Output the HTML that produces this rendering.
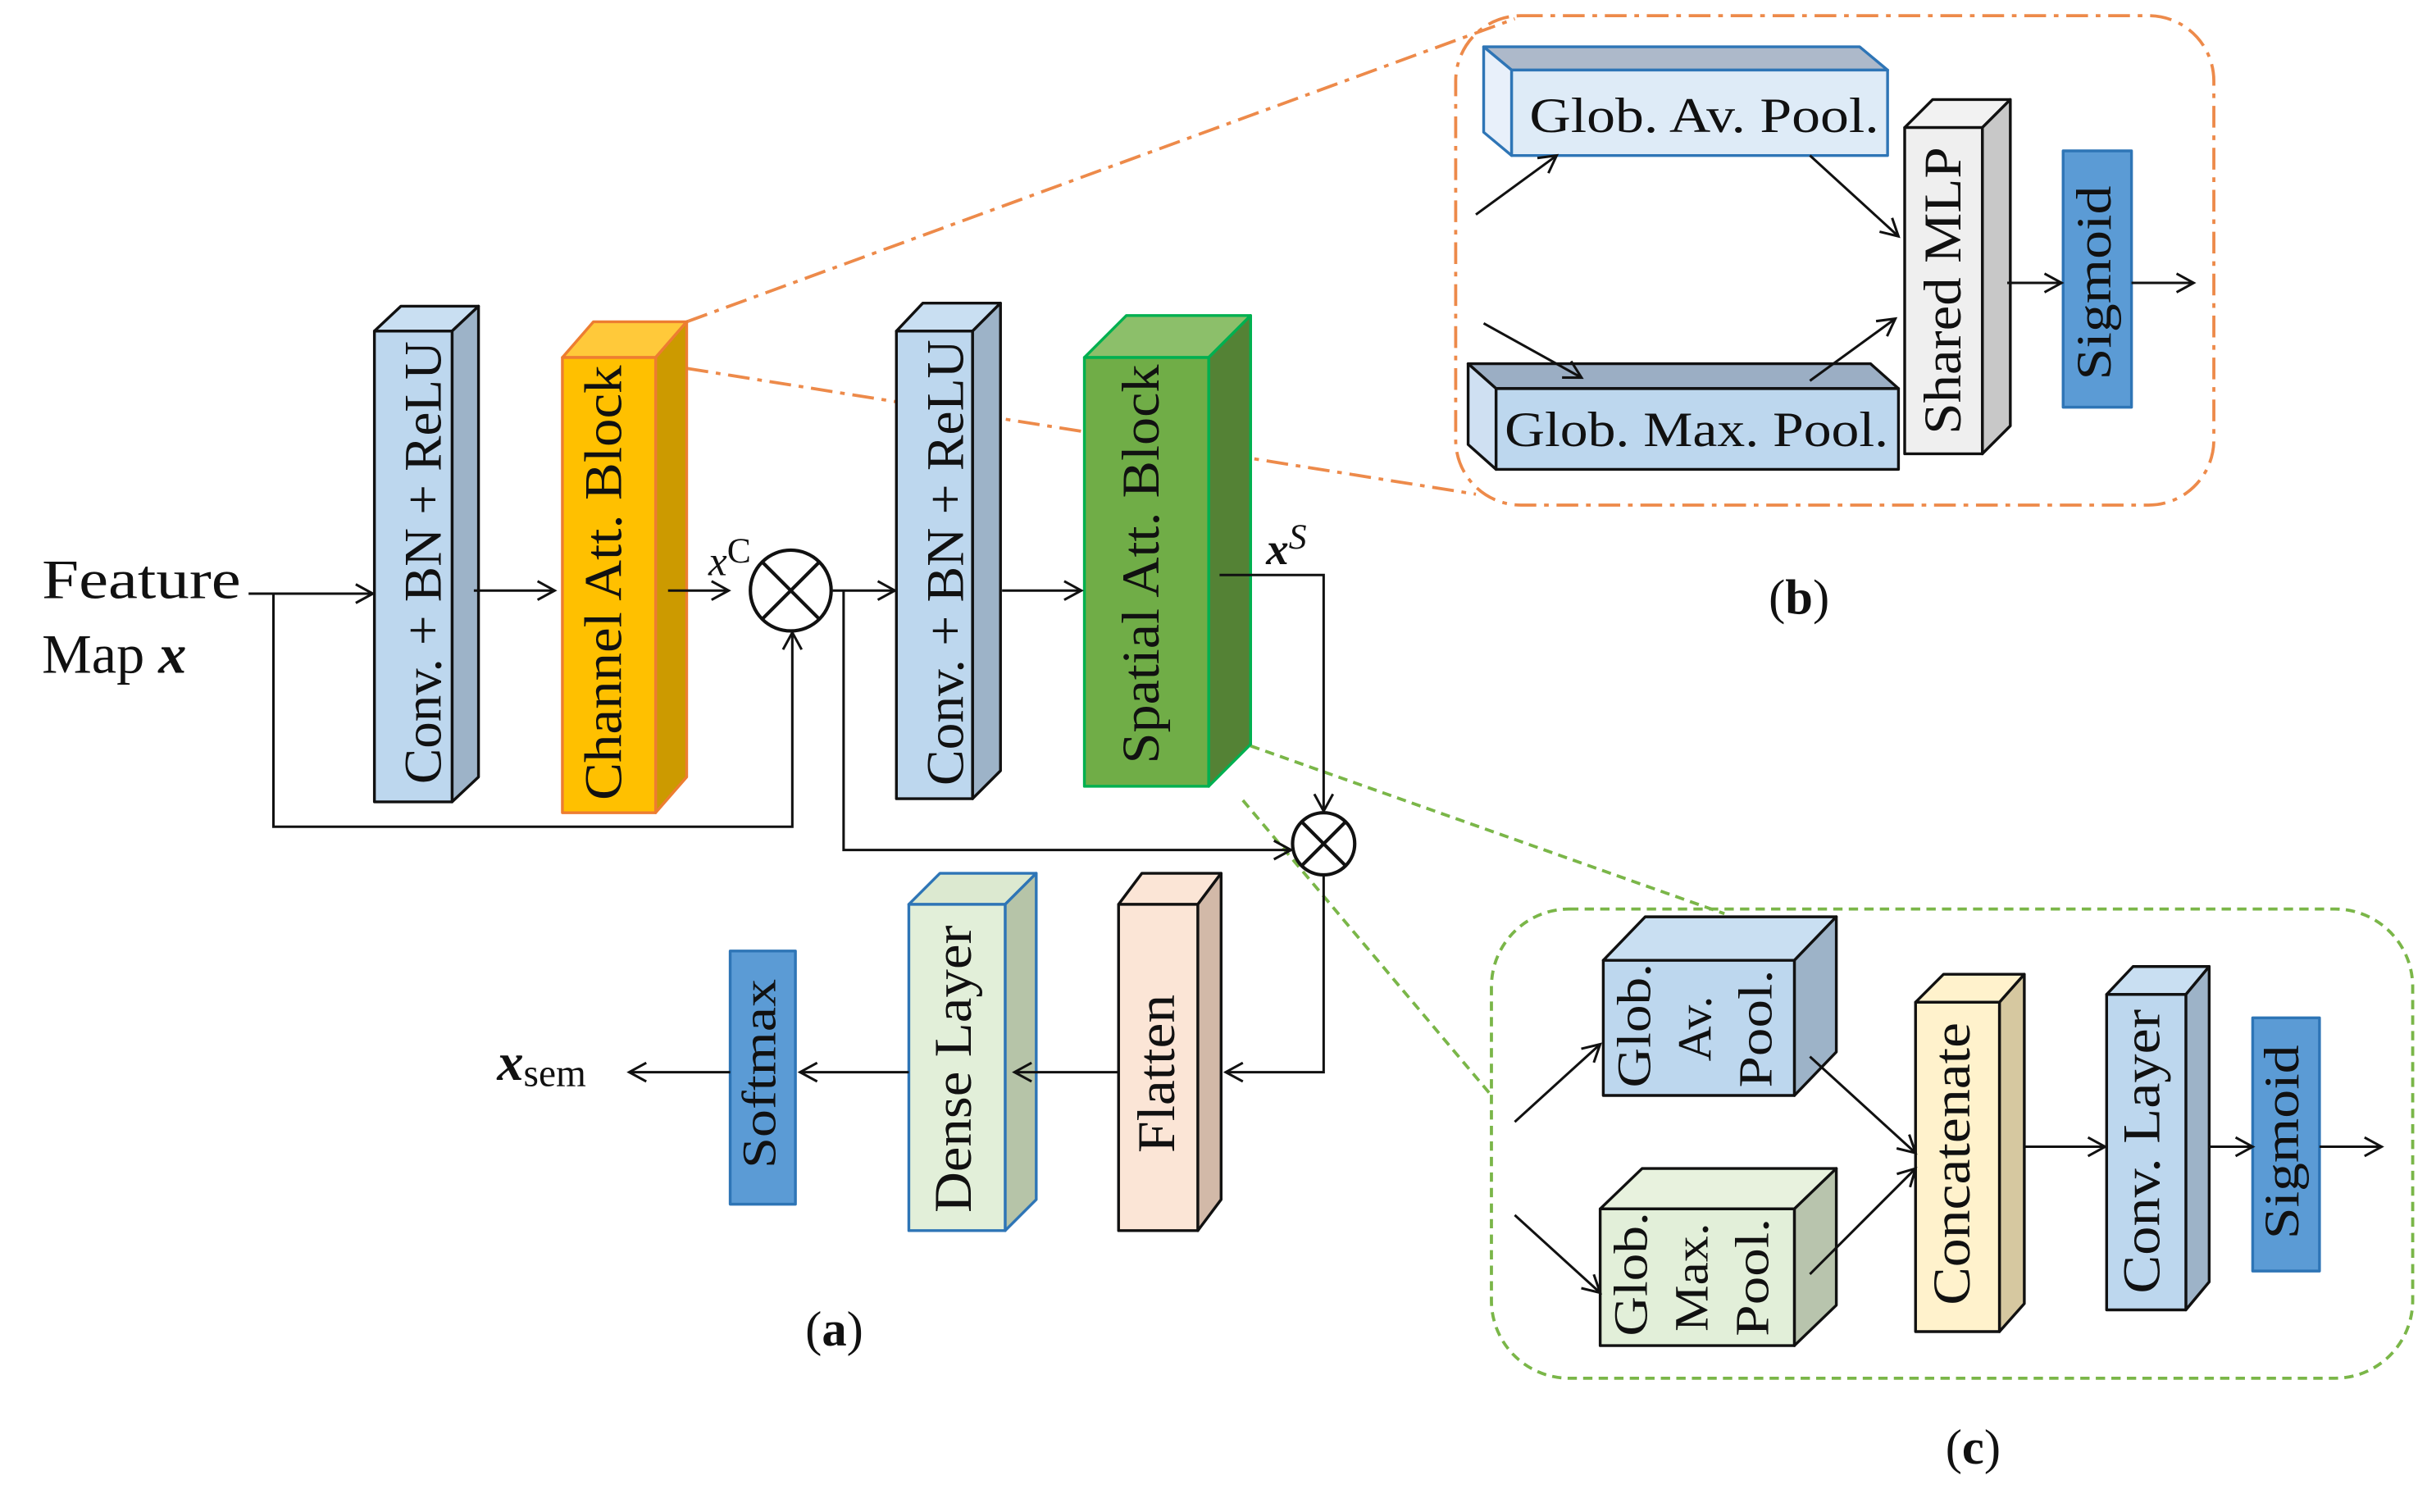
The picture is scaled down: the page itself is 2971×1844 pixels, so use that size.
<!DOCTYPE html>
<html><head><meta charset="utf-8"><style>html,body{margin:0;padding:0;background:#fff}svg{display:block}text{font-family:"Liberation Serif",serif;fill:#111}</style></head>
<body>
<svg width="2971" height="1844" viewBox="0 0 1568 973" xmlns="http://www.w3.org/2000/svg">
<defs>
<marker id="a" markerWidth="14" markerHeight="14" refX="12" refY="7" orient="auto" markerUnits="userSpaceOnUse">
<path d="M1,1 L12,7 L1,13" fill="none" stroke="#111" stroke-width="1.6"/></marker>
</defs>
<rect width="1568" height="973" fill="#fff"/>
<g fill="none" stroke="#ed8a4a" stroke-width="2" stroke-dasharray="14,5,3,5">
<line x1="442" y1="207" x2="975" y2="12"/>
<line x1="442" y1="237" x2="950" y2="318"/>
<rect x="937" y="10" width="488" height="315" rx="42"/>
</g>
<g fill="none" stroke="#7ab648" stroke-width="2" stroke-dasharray="6,4">
<line x1="805" y1="480" x2="1110" y2="588"/>
<line x1="800" y1="515" x2="960" y2="705"/>
<rect x="960" y="585" width="593" height="302" rx="50"/>
</g>
<g stroke="#111" stroke-width="1.8" stroke-linejoin="round">
<path d="M241,213 L258,197 L308,197 L291,213Z" fill="#c9dff2"/>
<path d="M291,213 L308,197 L308,500 L291,516Z" fill="#9db3c8"/>
<rect x="241" y="213" width="50" height="303" fill="#bdd7ee"/>
<g stroke="#ed7d31">
<path d="M362,230 L382,207 L442,207 L422,230Z" fill="#ffc93a"/>
<path d="M422,230 L442,207 L442,500 L422,523Z" fill="#cc9a00"/>
<rect x="362" y="230" width="60" height="293" fill="#ffc000"/>
</g>
<path d="M577,213 L594,195 L644,195 L626,213Z" fill="#c9dff2"/>
<path d="M626,213 L644,195 L644,496 L626,514Z" fill="#9db3c8"/>
<rect x="577" y="213" width="49" height="301" fill="#bdd7ee"/>
<g stroke="#00b050">
<path d="M698,230 L725,203 L805,203 L778,230Z" fill="#8cbf6a"/>
<path d="M778,230 L805,203 L805,479 L778,506Z" fill="#548235"/>
<rect x="698" y="230" width="80" height="276" fill="#70ad47"/>
</g>
<g stroke="#2e75b6">
<path d="M585,582 L605,562 L667,562 L647,582Z" fill="#dce9d0"/>
<path d="M647,582 L667,562 L667,772 L647,792Z" fill="#b6c4a8"/>
<rect x="585" y="582" width="62" height="210" fill="#e2efd9"/>
</g>
<path d="M720,582 L735,562 L786,562 L771,582Z" fill="#fbe5d6"/>
<path d="M771,582 L786,562 L786,772 L771,792Z" fill="#d2b9a8"/>
<rect x="720" y="582" width="51" height="210" fill="#fbe5d6"/>
<rect x="470" y="612" width="42" height="163" fill="#5b9bd5" stroke="#2e75b6"/>
<g stroke="#2e75b6">
<path d="M955,30 L1197,30 L1215,45 L973,45Z" fill="#adb9ca"/>
<path d="M955,30 L973,45 L973,100 L955,85Z" fill="#e8f0fa"/>
<rect x="973" y="45" width="242" height="55" fill="#deebf7"/>
</g>
<path d="M945,234 L1204,234 L1222,250 L963,250Z" fill="#9baec4"/>
<path d="M945,234 L963,250 L963,302 L945,286Z" fill="#cfe0f2"/>
<rect x="963" y="250" width="259" height="52" fill="#bdd7ee"/>
<path d="M1226,82 L1244,64 L1294,64 L1276,82Z" fill="#f2f2f2"/>
<path d="M1276,82 L1294,64 L1294,274 L1276,292Z" fill="#c8c8c8"/>
<rect x="1226" y="82" width="50" height="210" fill="#efefef"/>
<rect x="1328" y="97" width="44" height="165" fill="#5b9bd5" stroke="#2e75b6"/>
<path d="M1032,618 L1059,590 L1182,590 L1155,618Z" fill="#c9dff2"/>
<path d="M1155,618 L1182,590 L1182,677 L1155,705Z" fill="#9db3c8"/>
<rect x="1032" y="618" width="123" height="87" fill="#bdd7ee"/>
<path d="M1030,778 L1057,752 L1182,752 L1155,778Z" fill="#e8f2de"/>
<path d="M1155,778 L1182,752 L1182,840 L1155,866Z" fill="#b8c4ad"/>
<rect x="1030" y="778" width="125" height="88" fill="#e2efd9"/>
<path d="M1233,645 L1251,627 L1303,627 L1287,645Z" fill="#fff2cc"/>
<path d="M1287,645 L1303,627 L1303,839 L1287,857Z" fill="#d6c8a0"/>
<rect x="1233" y="645" width="54" height="212" fill="#fff2cc"/>
<path d="M1356,640 L1373,622 L1422,622 L1407,640Z" fill="#c9dff2"/>
<path d="M1407,640 L1422,622 L1422,825 L1407,843Z" fill="#9db3c8"/>
<rect x="1356" y="640" width="51" height="203" fill="#bdd7ee"/>
<rect x="1450" y="655" width="43" height="163" fill="#5b9bd5" stroke="#2e75b6"/>
</g>
<g stroke="#111" stroke-width="2.2" fill="#fff">
<circle cx="509" cy="380" r="26"/>
<path d="M491,362 L527,398 M527,362 L491,398"/>
<circle cx="852" cy="543" r="20"/>
<path d="M838,529 L866,557 M866,529 L838,557"/>
</g>
<g stroke="#111" stroke-width="1.6" fill="none">
<line x1="160" y1="382" x2="240" y2="382" marker-end="url(#a)"/>
<polyline points="176,382 176,532 510,532 510,407" marker-end="url(#a)"/>
<line x1="305" y1="380" x2="357" y2="380" marker-end="url(#a)"/>
<line x1="430" y1="380" x2="469" y2="380" marker-end="url(#a)"/>
<line x1="536" y1="380" x2="576" y2="380" marker-end="url(#a)"/>
<polyline points="543,380 543,547 831,547" marker-end="url(#a)"/>
<line x1="645" y1="380" x2="696" y2="380" marker-end="url(#a)"/>
<polyline points="785,370 852,370 852,522" marker-end="url(#a)"/>
<polyline points="852,563 852,690 789,690" marker-end="url(#a)"/>
<line x1="720" y1="690" x2="653" y2="690" marker-end="url(#a)"/>
<line x1="585" y1="690" x2="515" y2="690" marker-end="url(#a)"/>
<line x1="470" y1="690" x2="405" y2="690" marker-end="url(#a)"/>
<line x1="950" y1="138" x2="1002" y2="100" marker-end="url(#a)"/>
<line x1="1165" y1="100" x2="1222" y2="152" marker-end="url(#a)"/>
<line x1="955" y1="208" x2="1018" y2="243" marker-end="url(#a)"/>
<line x1="1165" y1="245" x2="1220" y2="205" marker-end="url(#a)"/>
<line x1="1292" y1="182" x2="1327" y2="182" marker-end="url(#a)"/>
<line x1="1372" y1="182" x2="1412" y2="182" marker-end="url(#a)"/>
<line x1="975" y1="722" x2="1030" y2="672" marker-end="url(#a)"/>
<line x1="975" y1="782" x2="1030" y2="832" marker-end="url(#a)"/>
<line x1="1165" y1="680" x2="1233" y2="742" marker-end="url(#a)"/>
<line x1="1165" y1="820" x2="1233" y2="752" marker-end="url(#a)"/>
<line x1="1303" y1="738" x2="1355" y2="738" marker-end="url(#a)"/>
<line x1="1422" y1="738" x2="1450" y2="738" marker-end="url(#a)"/>
<line x1="1493" y1="738" x2="1533" y2="738" marker-end="url(#a)"/>
</g>
<g font-size="34" text-anchor="middle" lengthAdjust="spacingAndGlyphs">
<text transform="translate(276,362) rotate(-90)" dominant-baseline="middle" textLength="285" lengthAdjust="spacingAndGlyphs">Conv. + BN + ReLU</text>
<text transform="translate(392,375) rotate(-90)" dominant-baseline="middle" textLength="280" lengthAdjust="spacingAndGlyphs">Channel Att. Block</text>
<text transform="translate(612,362) rotate(-90)" dominant-baseline="middle" textLength="287" lengthAdjust="spacingAndGlyphs">Conv. + BN + ReLU</text>
<text transform="translate(738,363) rotate(-90)" dominant-baseline="middle" textLength="257" lengthAdjust="spacingAndGlyphs">Spatial Att. Block</text>
<text transform="translate(492,691) rotate(-90)" dominant-baseline="middle" font-size="31" fill="#0b1e33" textLength="122" lengthAdjust="spacingAndGlyphs">Softmax</text>
<text transform="translate(617,688) rotate(-90)" dominant-baseline="middle" textLength="185" lengthAdjust="spacingAndGlyphs">Dense Layer</text>
<text transform="translate(748,691) rotate(-90)" dominant-baseline="middle" textLength="102" lengthAdjust="spacingAndGlyphs">Flatten</text>
<text x="1097" y="85" font-size="32" textLength="225" lengthAdjust="spacingAndGlyphs">Glob. Av. Pool.</text>
<text x="1092" y="287" font-size="32" textLength="247" lengthAdjust="spacingAndGlyphs">Glob. Max. Pool.</text>
<text transform="translate(1254,187) rotate(-90)" dominant-baseline="middle" textLength="185" lengthAdjust="spacingAndGlyphs">Shared MLP</text>
<text transform="translate(1351,182) rotate(-90)" dominant-baseline="middle" font-size="32" textLength="125" lengthAdjust="spacingAndGlyphs">Sigmoid</text>
<text transform="translate(1055,660) rotate(-90)" dominant-baseline="middle" font-size="31" textLength="80" lengthAdjust="spacingAndGlyphs">Glob.</text>
<text transform="translate(1094,662) rotate(-90)" dominant-baseline="middle" font-size="31" textLength="42" lengthAdjust="spacingAndGlyphs">Av.</text>
<text transform="translate(1133,662) rotate(-90)" dominant-baseline="middle" font-size="31" textLength="76" lengthAdjust="spacingAndGlyphs">Pool.</text>
<text transform="translate(1053,820) rotate(-90)" dominant-baseline="middle" font-size="31" textLength="80" lengthAdjust="spacingAndGlyphs">Glob.</text>
<text transform="translate(1092,822) rotate(-90)" dominant-baseline="middle" font-size="31" textLength="70" lengthAdjust="spacingAndGlyphs">Max.</text>
<text transform="translate(1131,822) rotate(-90)" dominant-baseline="middle" font-size="31" textLength="76" lengthAdjust="spacingAndGlyphs">Pool.</text>
<text transform="translate(1260,749) rotate(-90)" dominant-baseline="middle" textLength="182" lengthAdjust="spacingAndGlyphs">Concatenate</text>
<text transform="translate(1382,741) rotate(-90)" dominant-baseline="middle" textLength="183" lengthAdjust="spacingAndGlyphs">Conv. Layer</text>
<text transform="translate(1472,735) rotate(-90)" dominant-baseline="middle" font-size="32" textLength="125" lengthAdjust="spacingAndGlyphs">Sigmoid</text>
<text x="537" y="866" font-size="32">(<tspan font-weight="bold">a</tspan>)</text>
<text x="1158" y="395" font-size="32">(<tspan font-weight="bold">b</tspan>)</text>
<text x="1270" y="942" font-size="32">(<tspan font-weight="bold">c</tspan>)</text>
</g>
<g font-size="36">
<text x="27" y="385" textLength="128" lengthAdjust="spacingAndGlyphs">Feature</text>
<text x="27" y="433">Map <tspan font-style="italic" font-weight="bold">x</tspan></text>
<text x="456" y="370" font-size="27" font-style="italic">x<tspan dy="-8" font-style="normal" font-size="23">C</tspan></text>
<text x="815" y="363" font-size="29" font-style="italic" font-weight="bold">x<tspan dy="-10" font-weight="normal" font-size="23">S</tspan></text>
<text x="320" y="695" font-size="34" font-style="italic" font-weight="bold">x<tspan font-style="normal" font-weight="normal" font-size="25" dy="4">sem</tspan></text>
</g>
</svg>
</body></html>
